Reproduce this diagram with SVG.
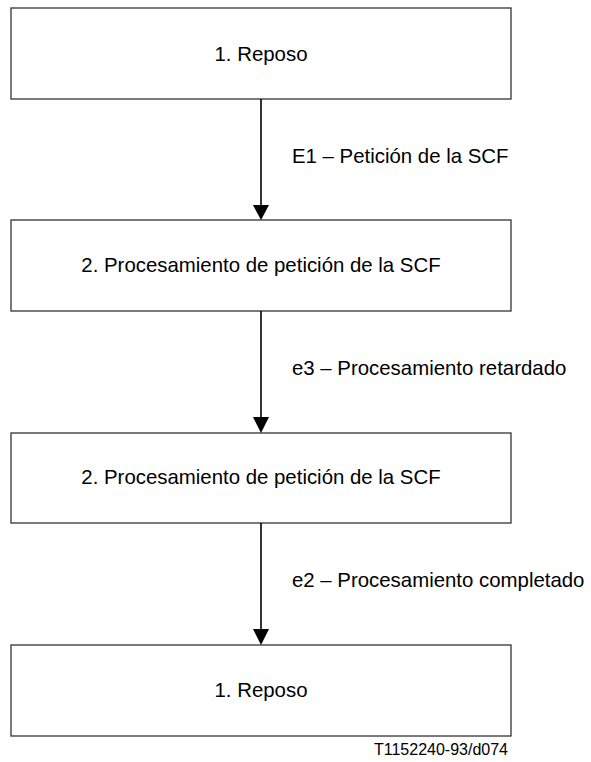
<svg xmlns="http://www.w3.org/2000/svg" width="591" height="762" viewBox="0 0 591 762">
<style>
.box{fill:#fff;stroke:#333;stroke-width:1.3}
.t{font-family:"Liberation Sans",Arial,sans-serif;font-size:20.4px;fill:#000}
.c{text-anchor:middle}
.ln{stroke:#000;stroke-width:1.6;fill:none}
.ah{fill:#000}
</style>
<rect width="591" height="762" fill="#fff"/>
<g id="node1"><rect class="box" x="11" y="8" width="500" height="91"/><text class="t c" x="261" y="61">1. Reposo</text></g>
<g id="node2"><rect class="box" x="11" y="220" width="500" height="91"/><text class="t c" x="261" y="272">2. Procesamiento de petición de la SCF</text></g>
<g id="node3"><rect class="box" x="11" y="433" width="500" height="90"/><text class="t c" x="261" y="484">2. Procesamiento de petición de la SCF</text></g>
<g id="node4"><rect class="box" x="11" y="645" width="500" height="91"/><text class="t c" x="261" y="697">1. Reposo</text></g>
<g id="connectors">
<line class="ln" x1="261" y1="99" x2="261" y2="206"/><polygon class="ah" points="253,205 269,205 261,220"/>
<text class="t" x="292" y="163">E1 – Petición de la SCF</text>
<line class="ln" x1="261" y1="311" x2="261" y2="418"/><polygon class="ah" points="253,417 269,417 261,433"/>
<text class="t" x="292" y="375">e3 – Procesamiento retardado</text>
<line class="ln" x1="261" y1="523" x2="261" y2="630"/><polygon class="ah" points="253,629 269,629 261,645"/>
<text class="t" x="292" y="587">e2 – Procesamiento completado</text>
</g>
<text x="508" y="755" font-family="Liberation Sans,Arial,sans-serif" font-size="16" text-anchor="end">T1152240-93/d074</text>
</svg>
